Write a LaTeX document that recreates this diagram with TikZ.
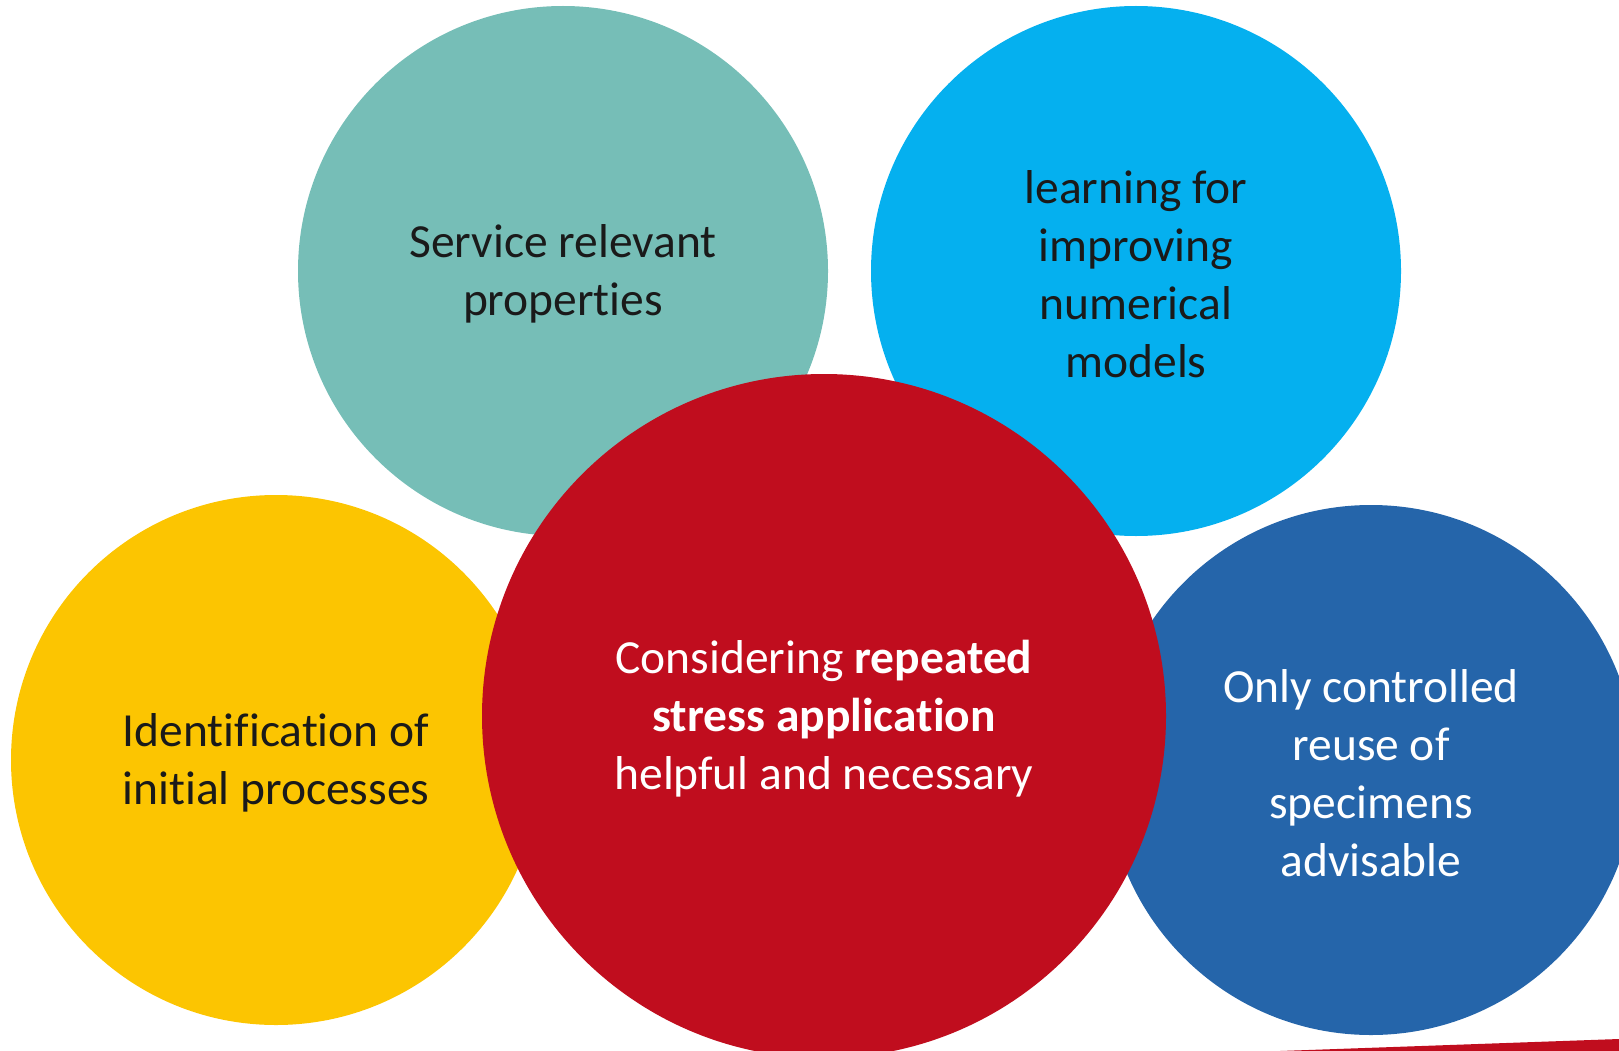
\documentclass[tikz,border=0pt]{standalone}
\usepackage{fontspec}
\setmainfont[Ligatures={NoCommon,NoRare}]{Carlito}
\definecolor{cteal}{HTML}{76BEB7}
\definecolor{clblue}{HTML}{05B0EF}
\definecolor{cyellow}{HTML}{FCC501}
\definecolor{cred}{HTML}{C00D1E}
\definecolor{cdblue}{HTML}{2565AA}
\definecolor{ctext}{HTML}{1A1A1A}
\begin{document}
\begin{tikzpicture}[x=1pt,y=-1pt,
  bubble/.style={circle,inner sep=0pt,fill=#1},
  small/.style={bubble=#1,minimum size=530pt},
  big/.style={bubble=#1,minimum size=684pt},
  label/.style={align=center,inner sep=0pt,font=\fontsize{47.5}{58}\selectfont}]
\useasboundingbox (0,0) rectangle (1619,1051);
\begin{scope}
\clip (0,0) rectangle (1619,1051);
\node[small=cteal] (svc) at (563,271) {};
\node[label,text=ctext] (svct) at ([yshift=-3pt]svc.center) {Service relevant\\properties};
\node[small=clblue] (learn) at (1136,271) {};
\node[label,text=ctext] (learnt) at ([yshift=-3pt]learn.center) {learning for\\improving\\numerical\\models};
\node[small=cyellow] (ident) at (276,760) {};
\node[label,text=ctext] (identt) at ([yshift=-3pt]ident.center) {Identification of\\initial processes};
\node[small=cdblue] (reuse) at (1371,770) {};
\node[label,text=white] (reuset) at ([yshift=-3pt]reuse.center) {Only controlled\\reuse of\\specimens\\advisable};
\node[big=cred] (stress) at (824,716) {};
\node[label,text=white] (stresst) at ([yshift=-3pt]stress.center) {Considering \textbf{repeated}\\\textbf{stress application}\\helpful and necessary};
\fill[cred] (1280,1051) -- (1619,1039) -- (1619,1051) -- cycle;
\end{scope}
\end{tikzpicture}
\end{document}
